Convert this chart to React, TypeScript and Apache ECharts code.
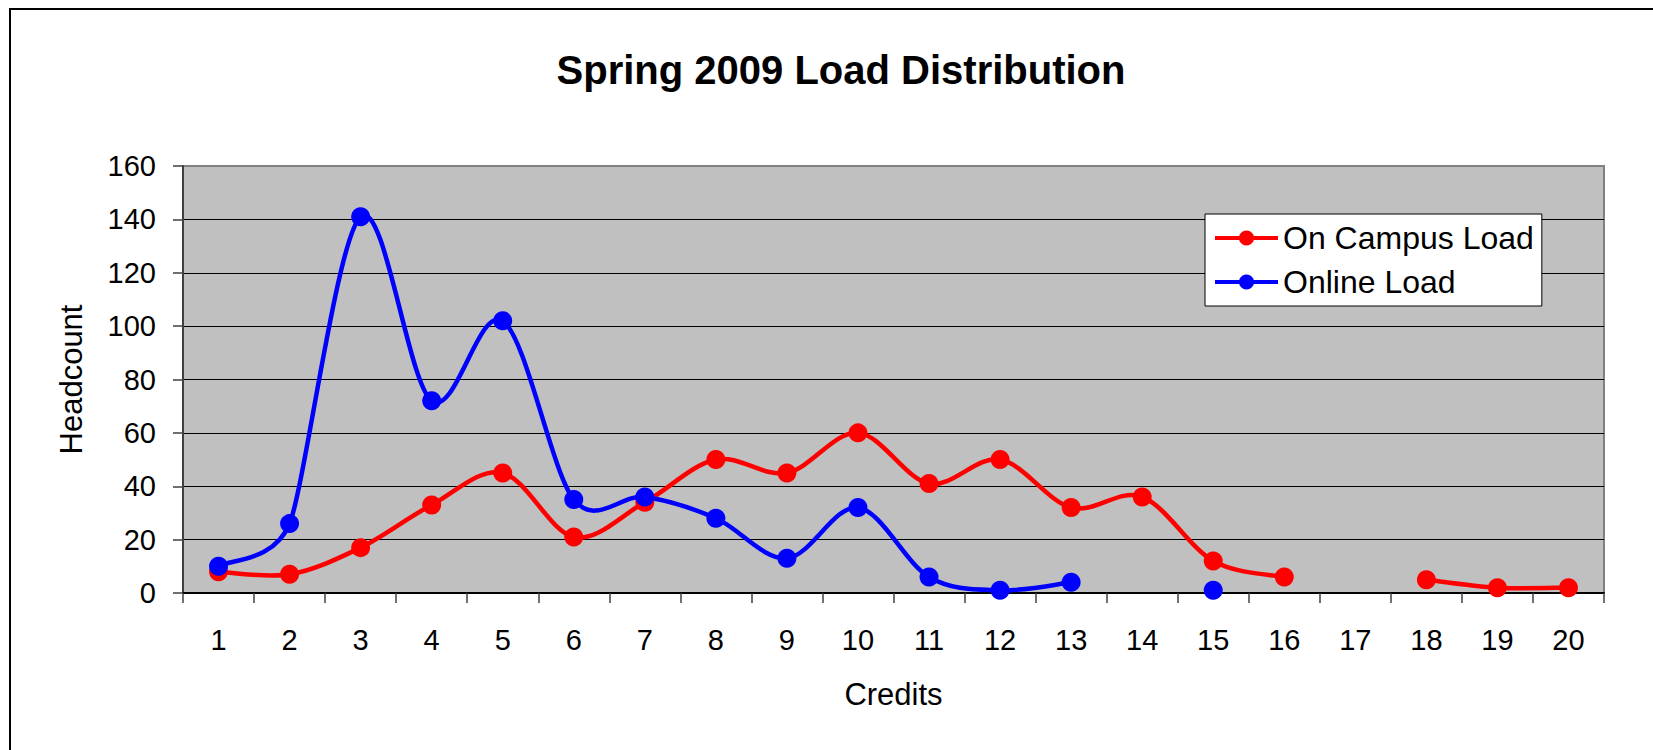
import React, { useEffect, useRef } from "react";
import * as echarts from "echarts";

const credits = ["1","2","3","4","5","6","7","8","9","10","11","12","13","14","15","16","17","18","19","20"];
const onCampusLoad = [8, 7, 17, 33, 45, 21, 34, 50, 45, 60, 41, 50, 32, 36, 12, 6, null, 5, 2, 2];
const onlineLoad = [10, 26, 141, 72, 102, 35, 36, 28, 13, 32, 6, 1, 4, null, 1, null, null, null, null, null];
const yTicks = [0, 20, 40, 60, 80, 100, 120, 140, 160];

const FONT = "'Liberation Sans', Arial, sans-serif";

function dist(a: number[], b: number[]) {
  return Math.hypot(a[0] - b[0], a[1] - b[1]);
}

// Tangent offset (Catmull-Rom, limited) at point index k, in pixel space via the axes
function tangentAt(values: (number | null)[], k: number, api: any) {
  const p = api.coord([k, values[k]]);
  const vPrev = k - 1 >= 0 ? values[k - 1] : null;
  const vNext = k + 1 < values.length ? values[k + 1] : null;
  const pPrev = vPrev == null ? p : api.coord([k - 1, vPrev]);
  const pNext = vNext == null ? p : api.coord([k + 1, vNext]);
  const tx = (pNext[0] - pPrev[0]) / 6;
  const ty = (pNext[1] - pPrev[1]) / 6;
  const len = Math.hypot(tx, ty);
  const segs: number[] = [];
  if (vPrev != null) segs.push(dist(p, pPrev));
  if (vNext != null) segs.push(dist(p, pNext));
  const limit = segs.length ? 0.5 * Math.min(...segs) : len;
  const s = len > limit && len > 0 ? limit / len : 1;
  return [tx * s, ty * s];
}

function makeCurveRenderer(values: (number | null)[], color: string) {
  return (params: any, api: any) => {
    const i = params.dataIndex;
    if (i + 1 >= values.length) return null;
    const v0 = values[i];
    const v1 = values[i + 1];
    if (v0 == null || v1 == null) return null;
    const p1 = api.coord([i, v0]);
    const p2 = api.coord([i + 1, v1]);
    const t1 = tangentAt(values, i, api);
    const t2 = tangentAt(values, i + 1, api);
    return {
      type: "bezierCurve",
      shape: {
        x1: p1[0], y1: p1[1], x2: p2[0], y2: p2[1],
        cpx1: p1[0] + t1[0], cpy1: p1[1] + t1[1],
        cpx2: p2[0] - t2[0], cpy2: p2[1] - t2[1],
      },
      style: { stroke: color, lineWidth: 4.5, fill: null, lineCap: "round" },
      silent: true,
    };
  };
}

export default function App() {
  const ref = useRef<HTMLDivElement>(null);
  useEffect(() => {
    document.body.style.margin = "0";
    const chart = echarts.init(ref.current!, null, { renderer: "svg" });
    const gridColors = yTicks.map((v) => (v === 160 ? "#808080" : "#000000"));
    const pointSeries = (name: string, data: (number | null)[], color: string) => ({
      name,
      type: "line",
      data,
      symbol: "circle",
      symbolSize: 19,
      showSymbol: true,
      showAllSymbol: true,
      connectNulls: false,
      color,
      itemStyle: { color },
      lineStyle: { color, width: 4.5, opacity: 0 },
    });
    const curveSeries = (name: string, data: (number | null)[], color: string) => ({
      name,
      type: "custom",
      data: data.map((v, i) => [i, v == null ? 0 : v]),
      encode: { x: 0, y: 1 },
      silent: true,
      legendHoverLink: false,
      renderItem: makeCurveRenderer(data, color),
    });
    chart.setOption({
      animation: false,
      backgroundColor: "#ffffff",
      textStyle: { fontFamily: FONT, color: "#000" },
      graphic: [
        {
          type: "rect",
          z: -10,
          shape: { x: 10, y: 9, width: 1700, height: 800 },
          style: { fill: "none", stroke: "#000", lineWidth: 2 },
        },
        {
          type: "text",
          x: 841,
          y: 70,
          style: {
            text: "Spring 2009 Load Distribution",
            fontFamily: FONT,
            fontSize: 40,
            fontWeight: "bold",
            fill: "#000",
            align: "center",
            verticalAlign: "middle",
          },
        },
      ],
      grid: {
        left: 183,
        top: 166,
        right: 49,
        bottom: 157,
        show: true,
        backgroundColor: "#C0C0C0",
        borderColor: "#808080",
        borderWidth: 2,
        containLabel: false,
      },
      legend: {
        orient: "vertical",
        left: 1205,
        top: 214,
        padding: [8, 8, 8, 8],
        itemGap: 12,
        itemWidth: 63,
        itemHeight: 19,
        backgroundColor: "#ffffff",
        borderColor: "#000",
        borderWidth: 1,
        lineStyle: { width: 4, opacity: 1 },
        textStyle: { fontFamily: FONT, fontSize: 32, color: "#000", lineHeight: 32 },
        data: ["On Campus Load", "Online Load"],
      },
      xAxis: {
        type: "category",
        data: credits,
        boundaryGap: true,
        axisLine: { show: true, lineStyle: { color: "#000", width: 2 } },
        axisTick: { show: true, length: 10, lineStyle: { color: "#404040", width: 1.5 } },
        axisLabel: { interval: 0, margin: 32, fontSize: 29, color: "#000", fontFamily: FONT },
        splitLine: { show: false },
        name: "Credits",
        nameLocation: "middle",
        nameGap: 86,
        nameTextStyle: { fontSize: 31, color: "#000", fontFamily: FONT },
      },
      yAxis: {
        type: "value",
        min: 0,
        max: 160,
        interval: 20,
        axisLine: { show: true, lineStyle: { color: "#404040", width: 2 } },
        axisTick: { show: true, length: 10, lineStyle: { color: "#404040", width: 1.5 } },
        axisLabel: { margin: 27, fontSize: 29, color: "#000", fontFamily: FONT },
        splitLine: { show: true, lineStyle: { color: gridColors, width: 1 } },
        name: "Headcount",
        nameLocation: "middle",
        nameGap: 96,
        nameTextStyle: { fontSize: 31, color: "#000", fontFamily: FONT },
      },
      series: [
        curveSeries("On Campus Load curve", onCampusLoad, "#FF0000"),
        pointSeries("On Campus Load", onCampusLoad, "#FF0000"),
        curveSeries("Online Load curve", onlineLoad, "#0000FF"),
        pointSeries("Online Load", onlineLoad, "#0000FF"),
      ],
    });
    return () => chart.dispose();
  }, []);
  return (
    <div
      ref={ref}
      style={{ position: "absolute", left: 0, top: 0, width: 1653, height: 750 }}
    />
  );
}
